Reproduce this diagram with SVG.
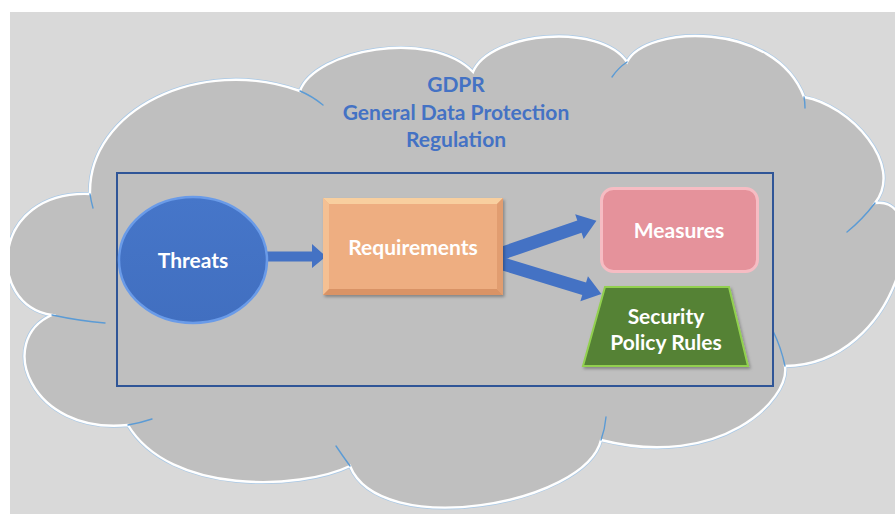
<svg xmlns="http://www.w3.org/2000/svg" width="895" height="514" viewBox="0 0 895 514">
  <defs>
    <clipPath id="panel">
      <rect x="10" y="12" width="885" height="502"/>
    </clipPath>
    <filter id="shadow" x="-10%" y="-10%" width="125%" height="130%">
      <feDropShadow dx="1.5" dy="2" stdDeviation="1.5" flood-color="#000000" flood-opacity="0.3"/>
    </filter>
    <linearGradient id="ovalShade" x1="0" y1="0" x2="0" y2="1">
      <stop offset="0" stop-color="#4676c9"/>
      <stop offset="1" stop-color="#416fc0"/>
    </linearGradient>
  </defs>
  <style>
    .title { font-family: Lato, "Open Sans", "Liberation Sans", sans-serif; font-weight: bold; font-size: 21px; fill: #4472c4; text-anchor: middle; }
    .label { font-family: Lato, "Open Sans", "Liberation Sans", sans-serif; font-weight: bold; font-size: 21px; fill: #ffffff; text-anchor: middle; }
    .cloud-edge { fill: none; stroke: #ffffff; stroke-width: 2.4; }
    .cloud-halo { fill: none; stroke: #a8c8e6; stroke-width: 3.8; }
    .cloud-seam { fill: none; stroke: #5b9bd5; stroke-width: 1.4; stroke-linecap: round; }
    .arrow { fill: #4472c4; }
  </style>

  <!-- page backdrop -->
  <rect x="0" y="0" width="895" height="514" fill="#ffffff"/>
  <rect x="10" y="12" width="885" height="502" fill="#d9d9d9"/>

  <!-- GDPR cloud -->
  <g id="cloud" clip-path="url(#panel)">
    <path id="cloudShape" d="M90,194 C88,110 200,55 300,91 C315,50 430,28 473,72 C490,32 600,22 627,62 C645,25 775,20 804,97 C850,105 905,165 875,203 C935,195 900,365 785,366 C790,400 720,470 601,440 C585,505 380,540 350,466 C300,490 170,495 128,425 C30,435 -5,340 52,315 C-15,305 -10,190 90,194 Z" fill="#bfbfbf"/>
    <use href="#cloudShape" class="cloud-halo"/>
    <use href="#cloudShape" class="cloud-edge"/>
    <path class="cloud-seam" d="M90,194 Q91,201 93,208"/>
    <path class="cloud-seam" d="M300,91 Q312,96 323,105"/>
    <path class="cloud-seam" d="M627,62 Q618,68 612,77"/>
    <path class="cloud-seam" d="M804,97 Q805,102 805,108"/>
    <path class="cloud-seam" d="M875,203 Q862,220 847,232"/>
    <path class="cloud-seam" d="M785,366 Q781,347 773,331"/>
    <path class="cloud-seam" d="M601,440 Q605,429 606,417"/>
    <path class="cloud-seam" d="M350,466 Q342,455 336,446"/>
    <path class="cloud-seam" d="M128,425 Q140,423 152,419"/>
    <path class="cloud-seam" d="M52,315 Q80,321 105,323"/>
  </g>

  <g id="title">
    <text class="title" x="456" y="92">GDPR</text>
    <text class="title" x="456" y="120">General Data Protection</text>
    <text class="title" x="456" y="147">Regulation</text>
  </g>

  <!-- frame around the process -->
  <g id="frame">
    <rect x="117" y="173" width="656" height="213" fill="none" stroke="#2f5597" stroke-width="2"/>
  </g>

  <!-- connectors -->
  <g id="connectors">
    <path class="arrow" d="M266,251.5 L312,251.5 L312,244 L326,256.5 L312,268 L312,261.5 L266,261.5 Z"/>
    <path class="arrow" transform="translate(500,254) rotate(-19)" d="M0,-6.5 L84,-6.5 L84,-13 L102,0 L84,13 L84,6.5 L0,6.5 Z"/>
    <path class="arrow" transform="translate(500,263) rotate(17)" d="M0,-6.5 L88,-6.5 L88,-13 L106,0 L88,13 L88,6.5 L0,6.5 Z"/>
  </g>

  <g id="threats">
    <ellipse cx="193" cy="260" rx="74" ry="63" fill="url(#ovalShade)" stroke="#6a9be8" stroke-width="2.5"/>
    <text class="label" x="193" y="268">Threats</text>
  </g>

  <g id="requirements">
    <rect x="323" y="198" width="180" height="97" fill="#eeae81" filter="url(#shadow)"/>
    <polygon points="323,198 503,198 497,204 329,204" fill="#f8cf9f"/>
    <polygon points="323,198 329,204 329,289 323,295" fill="#f4c093"/>
    <polygon points="503,198 503,295 497,289 497,204" fill="#e19d70"/>
    <polygon points="323,295 503,295 497,289 329,289" fill="#d99366"/>
    <text class="label" x="413" y="255">Requirements</text>
  </g>

  <g id="measures">
    <rect x="601.5" y="188.5" width="156" height="83" rx="12" fill="#e5929b" stroke="#f6bcc3" stroke-width="3"/>
    <text class="label" x="679" y="238">Measures</text>
  </g>

  <g id="security-policy-rules">
    <polygon points="605,287 729,287 748,366 583,366" fill="#548235" stroke="#92d050" stroke-width="2" filter="url(#shadow)"/>
    <text class="label" x="666" y="324">Security</text>
    <text class="label" x="666" y="350">Policy Rules</text>
  </g>
</svg>
